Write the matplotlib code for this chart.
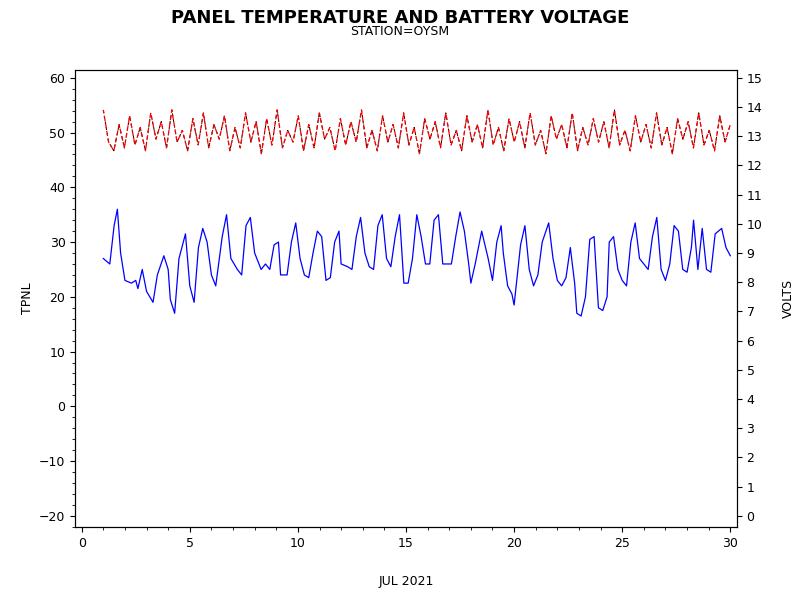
import matplotlib
matplotlib.use("Agg")
import matplotlib.pyplot as plt
import numpy as np
from matplotlib.ticker import MultipleLocator

# Panel temperature (day of July 2021, TPNL)
tp_day = [1.0,1.3,1.5,1.65,1.8,2.0,2.3,2.5,2.6,2.8,3.0,3.3,3.5,3.8,4.0,4.1,4.3,4.5,4.8,5.0,5.2,5.4,5.6,5.8,
          6.0,6.2,6.5,6.7,6.9,7.2,7.4,7.6,7.8,8.0,8.3,8.5,8.7,8.9,9.1,9.2,9.5,9.7,9.9,10.1,10.3,10.5,10.7,10.9,
          11.1,11.3,11.5,11.7,11.9,12.0,12.3,12.5,12.7,12.9,13.1,13.3,13.5,13.7,13.9,14.1,14.3,14.5,14.7,14.9,
          15.1,15.3,15.5,15.7,15.9,16.1,16.3,16.5,16.7,16.9,17.1,17.3,17.5,17.7,17.9,18.0,18.2,18.5,18.8,19.0,
          19.2,19.4,19.5,19.7,19.9,20.0,20.3,20.5,20.7,20.9,21.1,21.3,21.6,21.8,22.0,22.2,22.4,22.6,22.8,22.9,
          23.1,23.3,23.5,23.7,23.9,24.1,24.3,24.4,24.6,24.8,25.0,25.2,25.4,25.6,25.8,26.0,26.2,26.4,26.6,26.8,
          27.0,27.2,27.4,27.6,27.8,28.0,28.2,28.3,28.5,28.7,28.9,29.1,29.3,29.6,29.8,30.0]
tpnl = [27,26,33,36,28,23,22.5,23,21.5,25,21,19,24,27.5,25,19.5,17,27,31.5,22,19,29,32.5,30,
        24,22,31,35,27,25,24,33,34.5,28,25,26,25,29.5,30,24,24,30,33.5,27,24,23.5,28,32,
        31,23,23.5,30,32,26,25.5,25,31,34.5,28,25.5,25,33,35,27,25.5,31,35,22.5,
        22.5,27,35,31,26,26,34,35,26,26,26,31,35.5,32,26,22.5,26,32,27,23,
        30,33,28,22,20.5,18.5,29.5,33,25,22,24,30,33.5,27,23,22,23.5,29,22.5,17,
        16.5,20,30.5,31,18,17.5,20,30,31,25,23,22,30,33.5,27,26,25,31,34.5,25,
        23,26,33,32,25,24.5,29,34,25,32.5,25,24.5,31.5,32.5,29,27.5]

# Battery voltage (VOLTS), sampled evenly from day 1 to day 30
volts = [13.9,12.8,12.5,13.4,12.6,13.7,12.7,13.3,12.5,13.8,12.9,13.5,12.6,13.9,12.8,13.2,12.5,13.6,12.7,13.8,
         12.6,13.4,12.9,13.7,12.5,13.3,12.6,13.8,12.8,13.5,12.4,13.6,12.7,13.9,12.6,13.2,12.8,13.7,12.5,13.4,
         12.6,13.8,12.9,13.3,12.5,13.6,12.7,13.5,12.8,13.9,12.6,13.2,12.5,13.7,12.8,13.4,12.6,13.8,12.7,13.3,
         12.4,13.6,12.9,13.5,12.6,13.8,12.7,13.2,12.5,13.7,12.8,13.4,12.6,13.9,12.7,13.3,12.5,13.6,12.8,13.5,
         12.6,13.8,12.7,13.2,12.4,13.7,12.9,13.4,12.6,13.8,12.5,13.3,12.7,13.6,12.8,13.5,12.6,13.9,12.7,13.2,
         12.5,13.7,12.8,13.4,12.6,13.8,12.7,13.3,12.4,13.6,12.9,13.5,12.6,13.8,12.7,13.2,12.5,13.7,12.8,13.4]

fig = plt.figure(figsize=(8, 6), dpi=100)
ax = fig.add_axes([0.094, 0.122, 0.827, 0.762])
ax.plot(tp_day, tpnl, color="blue", lw=0.9)
ax.set_xlim(-0.3, 30.3)
ax.set_ylim(-22, 61.5)
ax.xaxis.set_major_locator(MultipleLocator(5))
ax.xaxis.set_minor_locator(MultipleLocator(1))
ax.yaxis.set_major_locator(MultipleLocator(10))
ax.yaxis.set_minor_locator(MultipleLocator(2))
ax.set_ylabel("TPNL", fontsize=9)
ax.set_xlabel("JUL 2021", fontsize=9, labelpad=18)
ax.tick_params(labelsize=9)

ax2 = ax.twinx()
vd = np.linspace(1, 30, len(volts))
ax2.plot(vd, volts, color="black", lw=0.7, linestyle=(0, (3, 3)))
ax2.plot(vd, volts, color="red", lw=0.9, linestyle=(1, (4, 2)))
ax2.set_ylim((-22 + 20) * 15 / 80, (61.5 + 20) * 15 / 80)
ax2.yaxis.set_major_locator(MultipleLocator(1))
ax2.set_ylabel("VOLTS", fontsize=9, labelpad=14)
ax2.tick_params(labelsize=9)

fig.text(0.5, 0.97, "PANEL TEMPERATURE AND BATTERY VOLTAGE", ha="center", va="center",
         fontsize=13, fontweight="bold")
fig.text(0.5, 0.948, "STATION=OYSM", ha="center", va="center", fontsize=9)
fig.savefig("out.png")
